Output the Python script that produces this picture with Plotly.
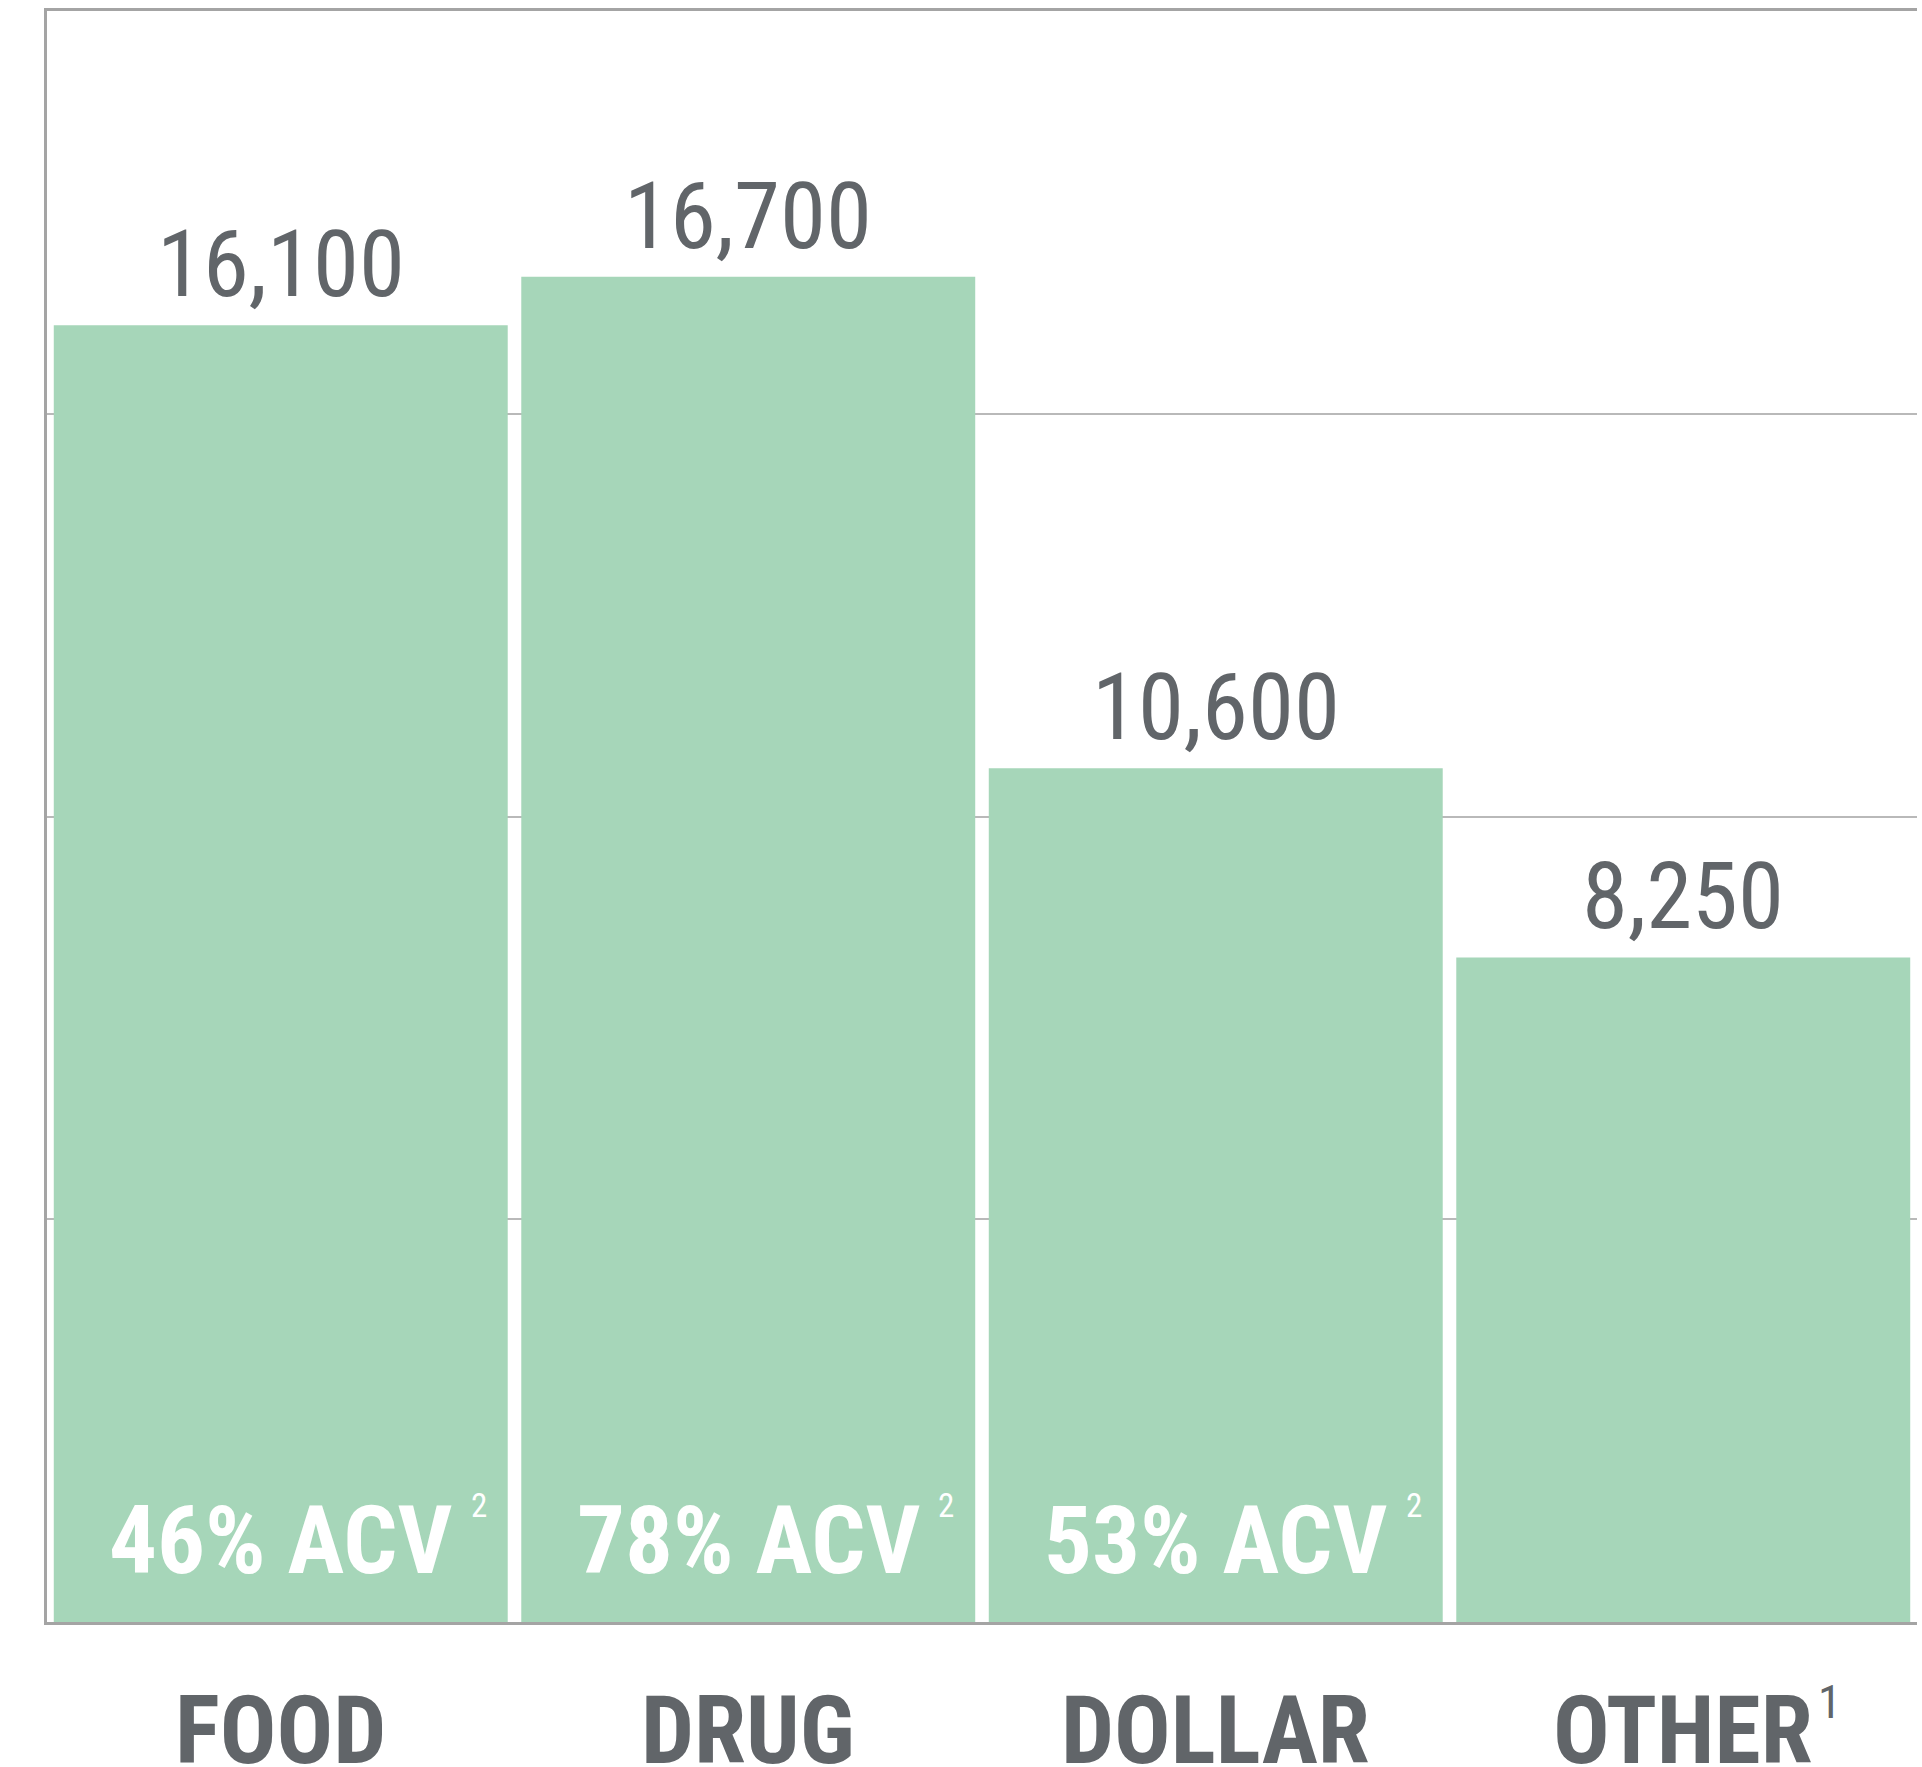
import plotly.graph_objects as go

# Store counts by retail channel
channels = ["FOOD", "DRUG", "DOLLAR", "OTHER"]
store_counts = [16100, 16700, 10600, 8250]
acv_share = ["46%", "78%", "53%", None]
acv_note = "2"
channel_notes = [None, None, None, "1"]

BAR_COLOR = "#a6d6b9"
TEXT_GRAY = "#616569"
AXIS_GRAY = "#a4a4a4"
GRID_GRAY = "#b9b9b9"
NARROW = "Roboto Condensed, Roboto, sans-serif"

fig = go.Figure(
    go.Bar(
        x=channels,
        y=store_counts,
        marker=dict(color=BAR_COLOR, line=dict(width=0)),
        hoverinfo="skip",
    )
)

annotations = []
for ch, val in zip(channels, store_counts):
    # value label above each bar
    annotations.append(dict(
        x=ch, y=val, xref="x", yref="y",
        text=f"{val:,}",
        showarrow=False, yanchor="bottom", yshift=4,
        font=dict(family=NARROW, size=93, color=TEXT_GRAY),
    ))

NOTE_OFFSET = 188
for ch, acv in zip(channels, acv_share):
    if acv is None:
        continue
    # ACV share inside the foot of each bar
    annotations.append(dict(
        x=ch, y=0, xref="x", yref="y",
        text=f"<b>{acv} ACV</b>",
        showarrow=False, yanchor="bottom", yshift=24,
        font=dict(family=NARROW, size=95, color="white"),
    ))
    # footnote marker
    annotations.append(dict(
        x=ch, y=0, xref="x", yref="y",
        text=acv_note,
        showarrow=False, xanchor="left", yanchor="bottom",
        xshift=NOTE_OFFSET, yshift=95,
        font=dict(family=NARROW, size=33, color="white"),
    ))

NAME_HALF_WIDTH = {"OTHER": 125}
for ch, note in zip(channels, channel_notes):
    # category name under the axis
    annotations.append(dict(
        x=ch, y=0, xref="x", yref="paper",
        text=f"<b>{ch}</b>",
        showarrow=False, yanchor="top", yshift=-52,
        font=dict(family=NARROW, size=94, color=TEXT_GRAY),
    ))
    if note:
        annotations.append(dict(
            x=ch, y=0, xref="x", yref="paper",
            text=note,
            showarrow=False, xanchor="left", yanchor="top",
            xshift=NAME_HALF_WIDTH[ch] + 8, yshift=-50,
            font=dict(family=NARROW, size=47, color=TEXT_GRAY),
        ))

fig.update_layout(
    width=1922, height=1767,
    margin=dict(l=47, r=5, t=11, b=145, pad=0),
    paper_bgcolor="white", plot_bgcolor="white",
    bargap=0.029,
    showlegend=False,
    annotations=annotations,
    xaxis=dict(
        range=[-0.5, 3.5],
        showticklabels=False, ticks="",
        showgrid=False, zeroline=False,
        showline=True, linecolor=AXIS_GRAY, linewidth=2.5, mirror=True,
    ),
    yaxis=dict(
        range=[0, 20000],
        dtick=5000, showticklabels=False, ticks="",
        showgrid=True, gridcolor=GRID_GRAY, gridwidth=2,
        zeroline=False,
        showline=True, linecolor=AXIS_GRAY, linewidth=2.5,
    ),
)

fig.write_html("out.html", config={"displayModeBar": False})
